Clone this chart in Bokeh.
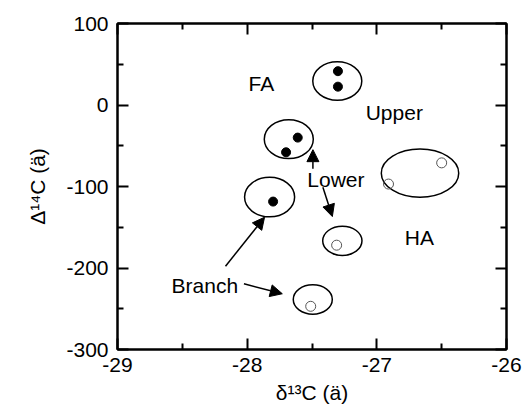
from bokeh.plotting import figure
from bokeh.models import (Range1d, LinearAxis, FixedTicker, Arrow, NormalHead, Label,
                          CustomLabelingPolicy)
from bokeh.embed import file_html
from bokeh.resources import INLINE

# ---- data ----
fa_x = [-27.30, -27.30, -27.61, -27.70, -27.80]
fa_y = [41.5, 22.5, -40.0, -58.0, -118.5]
ha_x = [-26.91, -26.50, -27.31, -27.51]
ha_y = [-97.0, -71.0, -172.0, -247.0]

ell_x = [-27.305, -27.679, -26.667, -27.827, -27.266, -27.494]
ell_y = [29.4, -41.9, -83.6, -113.0, -166.7, -238.6]
ell_w = [0.378, 0.378, 0.597, 0.386, 0.303, 0.301]
ell_h = [47.4, 47.8, 59.2, 48.4, 35.9, 36.0]

x_ticks = [-29, -28, -27, -26]
x_tick_labels = ["-29", "-28", "-27", "-26"]
y_ticks = [-300, -200, -100, 0, 100]
y_tick_labels = ["-300", "-200", "-100", "0", "100"]

labels = ["FA", "Upper", "Lower", "HA", "Branch"]
label_x = [-27.99, -27.086, -27.536, -26.785, -28.583]
label_y = [26.5, -9.4, -91.2, -162.9, -221.2]

arrows = [  # (x_start, y_start, x_end, y_end)
    (-27.493, -78.1, -27.493, -54.8),
    (-27.416, -101.0, -27.343, -136.9),
    (-28.167, -197.8, -27.866, -137.7),
    (-28.025, -219.4, -27.729, -231.6),
]

FONT = "Liberation Sans"
FS = "21px"

x_minor = [(a + b) / 2 for a, b in zip(x_ticks[:-1], x_ticks[1:])]
y_minor = [(a + b) / 2 for a, b in zip(y_ticks[:-1], y_ticks[1:])]

p = figure(width=527, height=407,
           x_range=Range1d(x_ticks[0], x_ticks[-1]),
           y_range=Range1d(y_ticks[0], y_ticks[-1]),
           output_backend="svg", toolbar_location=None,
           x_axis_location=None, y_axis_location=None,
           min_border_left=117, min_border_right=21,
           min_border_top=23, min_border_bottom=58)
p.xgrid.visible = False
p.ygrid.visible = False
p.outline_line_color = "black"
p.outline_line_width = 2
p.background_fill_color = "white"
p.border_fill_color = "white"

hide_all = CustomLabelingPolicy(code="""
    const n = indices.size
    for (let i = 0; i < n; i++) indices.unset(i)
    return indices
""")


def style_axis(ax, show_labels):
    ax.axis_line_width = 2
    ax.axis_line_color = "black"
    ax.major_tick_in = 11
    ax.major_tick_out = 0
    ax.minor_tick_in = 6
    ax.minor_tick_out = 0
    ax.major_tick_line_width = 2
    ax.minor_tick_line_width = 2
    ax.major_tick_line_color = "black"
    ax.minor_tick_line_color = "black"
    ax.major_label_text_font = FONT
    ax.axis_label_text_font = FONT
    ax.axis_label_text_font_style = "normal"
    ax.axis_label_text_font_size = FS
    ax.axis_label_text_color = "black"
    if show_labels:
        ax.major_label_text_font_size = FS
        ax.major_label_text_color = "black"
    else:
        ax.major_label_text_font_size = "1px"
        ax.major_label_standoff = 0
        ax.major_label_policy = hide_all


xb = LinearAxis(ticker=FixedTicker(ticks=x_ticks, minor_ticks=x_minor),
                major_label_overrides=dict(zip(x_ticks, x_tick_labels)),
                axis_label="δ¹³C (ä)")
style_axis(xb, True)
xb.major_label_standoff = 8
xb.axis_label_standoff = 6
p.add_layout(xb, "below")

yl = LinearAxis(ticker=FixedTicker(ticks=y_ticks, minor_ticks=y_minor),
                major_label_overrides=dict(zip(y_ticks, y_tick_labels)),
                axis_label="Δ¹⁴C (ä)")
style_axis(yl, True)
yl.major_label_standoff = 9
yl.axis_label_standoff = 14
p.add_layout(yl, "left")

xt = LinearAxis(ticker=FixedTicker(ticks=x_ticks, minor_ticks=x_minor))
style_axis(xt, False)
p.add_layout(xt, "above")

yr = LinearAxis(ticker=FixedTicker(ticks=y_ticks, minor_ticks=y_minor))
style_axis(yr, False)
p.add_layout(yr, "right")

p.ellipse(x=ell_x, y=ell_y, width=ell_w, height=ell_h,
          fill_color=None, line_color="black", line_width=1.5)

p.scatter(fa_x, fa_y, size=9, marker="circle", fill_color="black", line_color="black")
p.scatter(ha_x, ha_y, size=10, marker="circle", fill_color=None,
          line_color="#555555", line_width=1)

for (xs, ys, xe, ye) in arrows:
    p.add_layout(Arrow(end=NormalHead(size=12, fill_color="black", line_color="black"),
                       x_start=xs, y_start=ys, x_end=xe, y_end=ye,
                       line_color="black", line_width=1.5))

for t, lx, ly in zip(labels, label_x, label_y):
    p.add_layout(Label(x=lx, y=ly, text=t, text_font=FONT, text_font_size=FS,
                       text_baseline="middle", text_align="left", text_color="black"))

open("out.html", "w").write(file_html(p, INLINE))
